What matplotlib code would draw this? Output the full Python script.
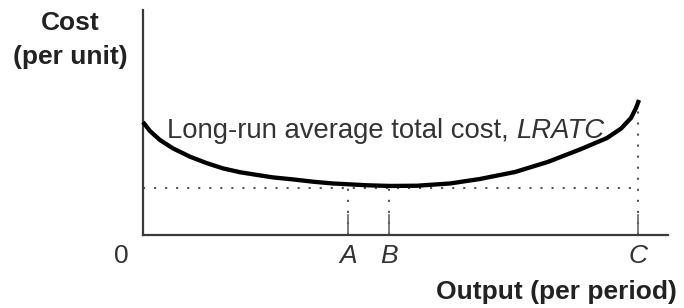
import matplotlib
matplotlib.use("Agg")
import matplotlib.pyplot as plt

plt.rcParams['font.family'] = ['Liberation Sans', 'DejaVu Sans']

# Data (output 0-100, cost 0-100; schematic units)
output = [0, 1.33, 3.24, 5.71, 8.95, 12.19, 15.24, 18.48, 21.71, 24.76, 28.57,
          32.76, 36.19, 42.67, 47.05, 52.19, 58.48, 64.19, 70.86, 77.14, 83.43,
          88.38, 91.05, 92.95, 93.90, 94.48]
lratc = [50.2, 46.2, 42.2, 38.5, 34.8, 31.9, 29.6, 27.9, 26.7, 25.6, 24.7,
         23.6, 22.9, 22.1, 21.8, 21.9, 22.9, 24.9, 28.0, 32.5, 38.2,
         43.1, 47.3, 52.0, 56.4, 60.0]
tick_names = ['A', 'B', 'C']
tick_pos = [39.0, 46.9, 94.3]
min_cost = 21.1
c_top = 55.0

W, H = 684, 308
fig = plt.figure(figsize=(W / 100, H / 100), dpi=100)
ax = fig.add_axes([143 / W, (H - 235) / H, 525 / W, 225 / H])
ax.set_xlim(0, 100)
ax.set_ylim(0, 100)
for s in ['top', 'right']:
    ax.spines[s].set_visible(False)
for s in ['left', 'bottom']:
    ax.spines[s].set_color('#3a3a3a')
    ax.spines[s].set_linewidth(1.6)
ax.set_xticks([])
ax.set_yticks([])

dot = dict(color='#555555', lw=1.5, linestyle=(0, (1, 4.3)), clip_on=False)
ax.plot([0, tick_pos[2]], [min_cost, min_cost], **dot)
ax.plot([tick_pos[0], tick_pos[0]], [0, min_cost], **dot)
ax.plot([tick_pos[1], tick_pos[1]], [0, min_cost], **dot)
ax.plot([tick_pos[2], tick_pos[2]], [0, c_top], **dot)
for p in tick_pos:
    ax.plot([p, p], [0, 8.9], color='#666666', lw=1.2, clip_on=False)

ax.plot(output, lratc, color='black', lw=3.1, solid_capstyle='butt',
        solid_joinstyle='round', clip_on=False, zorder=5)

fs_tick = 19
for name, p in zip(tick_names, tick_pos):
    ax.text(p, -9.3, name, ha='center', va='center', fontsize=fs_tick,
            style='italic', color='#333333', clip_on=False)
ax.text(-4.2, -9.3, '0', ha='center', va='center', fontsize=fs_tick,
        color='#333333', clip_on=False)


def fx(px):
    return px / W


def fy(py):
    return 1 - py / H


fs_title = 19
fig.text(fx(70), fy(23), 'Cost', ha='center', va='center', fontsize=fs_title,
         fontweight='bold', color='#222222')
fig.text(fx(70), fy(57), '(per unit)', ha='center', va='center',
         fontsize=fs_title, fontweight='bold', color='#222222')
fig.text(fx(556), fy(292), 'Output (per period)', ha='center', va='center',
         fontsize=fs_title, fontweight='bold', color='#222222')

fs_lab = 19.8
t1 = fig.text(fx(167), fy(131), 'Long-run average total cost, ', ha='left',
              va='center', fontsize=fs_lab, color='#333333')
fig.canvas.draw()
bb = t1.get_window_extent()
fig.text(bb.x1 / W, fy(131), 'LRATC', ha='left', va='center', fontsize=fs_lab,
         style='italic', color='#333333')

fig.savefig('out.png', dpi=100)
